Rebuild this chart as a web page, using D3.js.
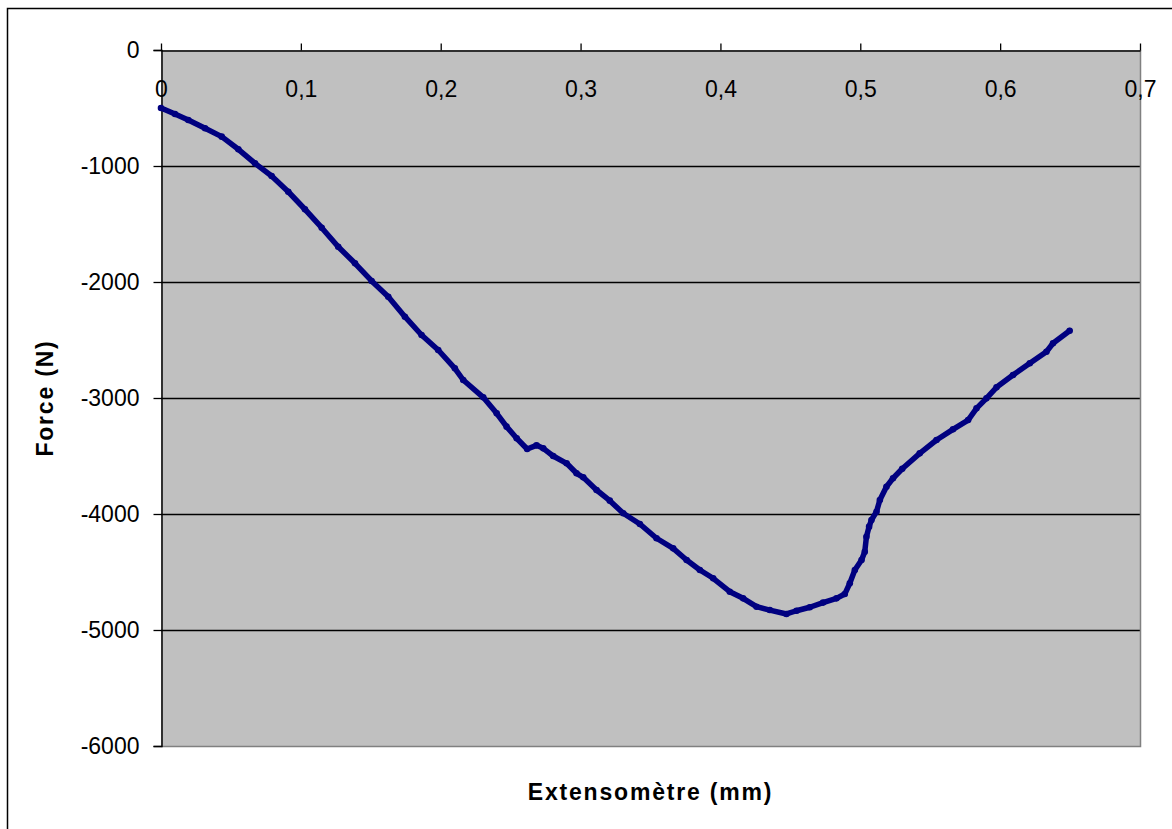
<!DOCTYPE html>
<html>
<head>
<meta charset="utf-8">
<script src="https://cdn.jsdelivr.net/npm/d3@7"></script>
<style>
  body { margin: 0; background: #fff; }
  svg { display: block; font-family: "Liberation Sans", Arial, sans-serif; }
</style>
</head>
<body>
<svg></svg>
<script>
// extensometer reading (mm) and force (N)
const extData = [
  0.000, 0.010, 0.0195, 0.0315, 0.0434, 0.0553, 0.0672, 0.0791, 0.0910, 0.1029,
  0.1149, 0.1267, 0.1387, 0.1506, 0.1625, 0.1744, 0.1863, 0.1982, 0.2101, 0.2161,
  0.2304, 0.2400, 0.2471, 0.2543, 0.2618, 0.2685, 0.2733, 0.2804, 0.2900, 0.2971,
  0.3019, 0.3114, 0.3209, 0.3305, 0.3424, 0.3543, 0.3662, 0.3758, 0.3853, 0.3948,
  0.4067, 0.4162, 0.4258, 0.4353, 0.4472, 0.4544, 0.4639, 0.4734, 0.4830, 0.4889,
  0.4925, 0.4961, 0.5009, 0.5032, 0.5044, 0.5063, 0.5080, 0.5116, 0.5140, 0.5187,
  0.5234, 0.5300, 0.5425, 0.5545, 0.5663, 0.5771, 0.5831, 0.5902, 0.5974, 0.6092,
  0.6212, 0.6331, 0.6378, 0.6497
]
const forceData = [
  -500, -552, -603, -675, -747, -856, -977, -1086, -1222, -1373,
  -1532, -1696, -1839, -1991, -2127, -2299, -2457, -2586, -2744, -2845,
  -2994, -3132, -3247, -3347, -3440, -3408, -3434, -3500, -3563, -3649,
  -3684, -3793, -3885, -3994, -4086, -4209, -4296, -4397, -4483, -4554,
  -4670, -4727, -4799, -4828, -4862, -4834, -4804, -4764, -4727, -4690,
  -4597, -4483, -4397, -4325, -4196, -4109, -4052, -3980, -3879, -3765,
  -3692, -3610, -3477, -3362, -3270, -3190, -3089, -3003, -2908, -2802,
  -2701, -2601, -2528, -2420
]
const xTicks = [0, 0.1, 0.2, 0.3, 0.4, 0.5, 0.6, 0.7]
const yTicks = [0, -1000, -2000, -3000, -4000, -5000, -6000]

const
    svgWidth = 1172,
    svgHeight = 829,
    LEFT = 161,
    RIGHT = 1140,
    TOP = 50,
    BOTTOM = 746,
    TICK_FONT = 23

const fr = d3.formatLocale({decimal: ",", thousands: "", grouping: [3], currency: ["", ""], minus: "-"})

let svg = d3.select('svg')
    .attr('width', svgWidth)
    .attr('height', svgHeight)

// chart border (runs past the picture on right and bottom)
svg.append('rect')
    .attr('x', 7.5).attr('y', 8.5)
    .attr('width', svgWidth).attr('height', svgHeight)
    .attr('fill', '#fff')
    .attr('stroke', '#000')
    .attr('stroke-width', 1.5)

let x = d3.scaleLinear().domain([0, 0.7]).range([LEFT, RIGHT])
let y = d3.scaleLinear().domain([-6000, 0]).range([BOTTOM, TOP])

// plot area
svg.append('rect')
    .attr('x', LEFT).attr('y', TOP)
    .attr('width', RIGHT - LEFT).attr('height', BOTTOM - TOP)
    .attr('fill', '#c0c0c0')

// gridlines
svg.append('g')
    .selectAll('line')
    .data(yTicks.filter(d => d !== 0 && d !== -6000))
    .join('line')
    .attr('x1', LEFT).attr('x2', RIGHT)
    .attr('y1', d => Math.round(y(d)) + 0.5).attr('y2', d => Math.round(y(d)) + 0.5)
    .attr('stroke', '#000')
    .attr('stroke-width', 1.3)

// plot border right + bottom
svg.append('path')
    .attr('d', `M${RIGHT + 0.5},${TOP}V${BOTTOM + 0.5}H${LEFT}`)
    .attr('fill', 'none')
    .attr('stroke', '#808080')
    .attr('stroke-width', 1.5)

// y axis
let yAxis = svg.append('g')
    .attr('transform', `translate(${LEFT + 0.5},0)`)
    .call(d3.axisLeft(y).tickValues(yTicks).tickSize(8).tickPadding(14).tickFormat(fr.format('d')))
yAxis.selectAll('.domain').attr('stroke', '#000').attr('stroke-width', 1.5)
yAxis.selectAll('line').attr('stroke', '#000').attr('stroke-width', 1.3)
yAxis.selectAll('text').attr('font-size', TICK_FONT).attr('fill', '#000')
    .attr('font-family', '"Liberation Sans", Arial, sans-serif')

// x axis along y = 0 at the top, labels inside the plot
let xAxis = svg.append('g')
    .attr('transform', `translate(0,${TOP + 0.5})`)
    .call(d3.axisTop(x).tickValues(xTicks).tickSize(7).tickSizeOuter(0)
        .tickFormat(d => d === 0 ? '0' : fr.format('.1f')(d)))
xAxis.selectAll('.domain').attr('stroke', '#000').attr('stroke-width', 1.5)
xAxis.selectAll('line').attr('stroke', '#000').attr('stroke-width', 1.3)
xAxis.selectAll('text')
    .attr('y', 46).attr('dy', 0)
    .attr('font-size', TICK_FONT).attr('fill', '#000')
    .attr('font-family', '"Liberation Sans", Arial, sans-serif')

// data
const points = extData.map((e, i) => [e, forceData[i]])

svg.append('path')
    .datum(points)
    .attr('d', d3.line().x(d => x(d[0])).y(d => y(d[1])))
    .attr('fill', 'none')
    .attr('stroke', '#000080')
    .attr('stroke-width', 5.5)
    .attr('stroke-linejoin', 'round')
    .attr('stroke-linecap', 'round')

svg.append('g')
    .selectAll('circle')
    .data(points)
    .join('circle')
    .attr('cx', d => x(d[0]))
    .attr('cy', d => y(d[1]))
    .attr('r', 3.3)
    .attr('fill', '#000080')

// axis titles
svg.append('text')
    .text('Extensomètre (mm)')
    .attr('x', (LEFT + RIGHT) / 2)
    .attr('y', 800)
    .attr('text-anchor', 'middle')
    .attr('font-size', 23)
    .attr('font-weight', 'bold')
    .attr('letter-spacing', 1.8)

svg.append('text')
    .text('Force (N)')
    .attr('transform', `translate(53,${(TOP + BOTTOM) / 2}) rotate(-90)`)
    .attr('text-anchor', 'middle')
    .attr('font-size', 23)
    .attr('font-weight', 'bold')
    .attr('letter-spacing', 1.8)
</script>
</body>
</html>
